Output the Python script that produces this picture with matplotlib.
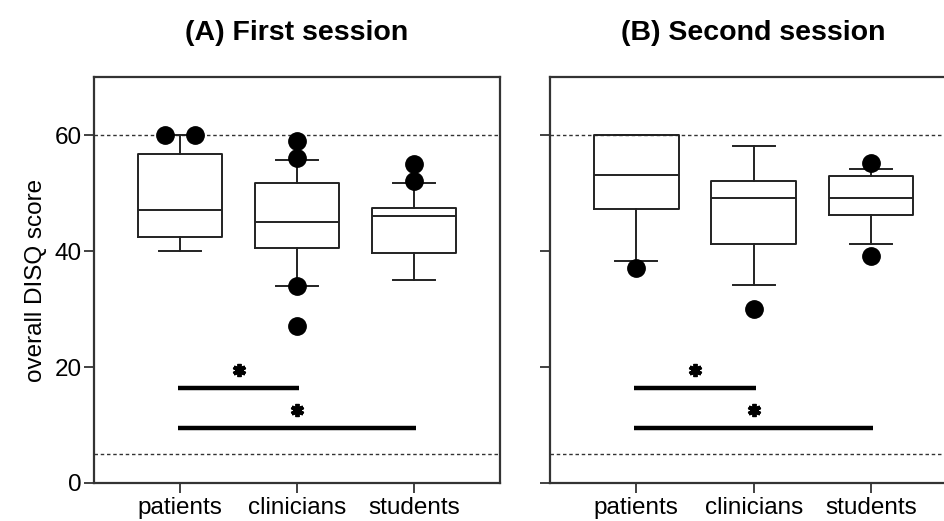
import numpy as np
import matplotlib
matplotlib.use('Agg')
import matplotlib.pyplot as plt

plt.rcParams['font.family'] = ['Liberation Sans', 'DejaVu Sans']

# --------------------------------------------------
# box plot summaries (overall DISQ score)
# --------------------------------------------------
groups = ['patients', 'clinicians', 'students']
titles = ['(A) First session', '(B) Second session']

# first session
s1_q1 = [42.5, 40.5, 39.6]
s1_med = [47.0, 45.0, 46.0]
s1_q3 = [56.8, 51.8, 47.4]
s1_lo = [40.0, 34.0, 35.0]
s1_hi = [60.0, 55.7, 51.8]
s1_out = [[60, 60], [59, 56, 34, 27], [55, 52]]

# second session
s2_q1 = [47.2, 41.3, 46.3]
s2_med = [53.2, 49.2, 49.2]
s2_q3 = [60.0, 52.0, 53.0]
s2_lo = [38.2, 34.1, 41.2]
s2_hi = [60.0, 58.2, 54.2]
s2_out = [[37], [30], [55.1, 39.1]]

# significance brackets: (from group, to group, height)
sig_pairs = [(0, 1, 16.3), (0, 2, 9.4)]
ref_lines = [60, 5]

sessions = [
    (s1_q1, s1_med, s1_q3, s1_lo, s1_hi, s1_out),
    (s2_q1, s2_med, s2_q3, s2_lo, s2_hi, s2_out),
]

fig = plt.figure(figsize=(9.45, 5.21), dpi=100)
axes = [fig.add_axes([0.0995, 0.073, 0.4296, 0.779]),
        fig.add_axes([0.582, 0.073, 0.431, 0.779])]

pos = np.arange(len(groups))
for k, ax in enumerate(axes):
    q1, med, q3, lo, hi, out = sessions[k]
    stats = []
    for i in range(len(groups)):
        stats.append(dict(q1=q1[i], med=med[i], q3=q3[i],
                          whislo=lo[i], whishi=hi[i], fliers=[]))
    ax.bxp(stats, positions=pos, widths=0.72, capwidths=0.36,
           showfliers=False,
           boxprops=dict(color='#222222', linewidth=1.4),
           medianprops=dict(color='#222222', linewidth=1.4),
           whiskerprops=dict(color='#222222', linewidth=1.4),
           capprops=dict(color='#222222', linewidth=1.4))

    # outliers, spread sideways where values repeat
    for i in range(len(groups)):
        vals = np.array(out[i], dtype=float)
        xs = np.full(len(vals), float(pos[i]))
        for v in np.unique(vals):
            idx = np.where(vals == v)[0]
            if len(idx) > 1:
                xs[idx] = pos[i] + np.linspace(-0.128, 0.128, len(idx))
        ax.plot(xs, vals, 'o', color='black', markersize=12.5, zorder=5)

    # reference levels
    for yv in ref_lines:
        ax.axhline(yv, color='#333333', linewidth=1.0,
                   linestyle=(0, (2.5, 2)), zorder=0)

    # significance bars with asterisks
    for a, b, h in sig_pairs:
        ax.plot([pos[a] - 0.02, pos[b] + 0.02], [h, h], color='black',
                linewidth=3.2, solid_capstyle='butt')
        ax.plot((pos[a] + pos[b]) / 2, h + 3.1, marker=(6, 2, 0),
                markersize=9.5, markeredgewidth=2.8, color='black')

    ax.set_xlim(-0.735, 2.735)
    ax.set_ylim(0, 70)
    ax.set_yticks([0, 20, 40, 60])
    ax.set_xticks(pos)
    ax.set_xticklabels(groups)
    ax.tick_params(axis='both', labelsize=17.5, length=7, width=1.3,
                   color='#333333')
    ax.tick_params(axis='x', pad=3)
    ax.tick_params(axis='y', pad=2)
    for sp in ax.spines.values():
        sp.set_linewidth(1.6)
        sp.set_color('#333333')
    ax.set_title(titles[k], fontsize=20.5, fontweight='bold', pad=27)

axes[0].set_ylabel('overall DISQ score', fontsize=17.5, labelpad=5)
axes[1].set_yticklabels([])

fig.savefig('out.png', dpi=100)
